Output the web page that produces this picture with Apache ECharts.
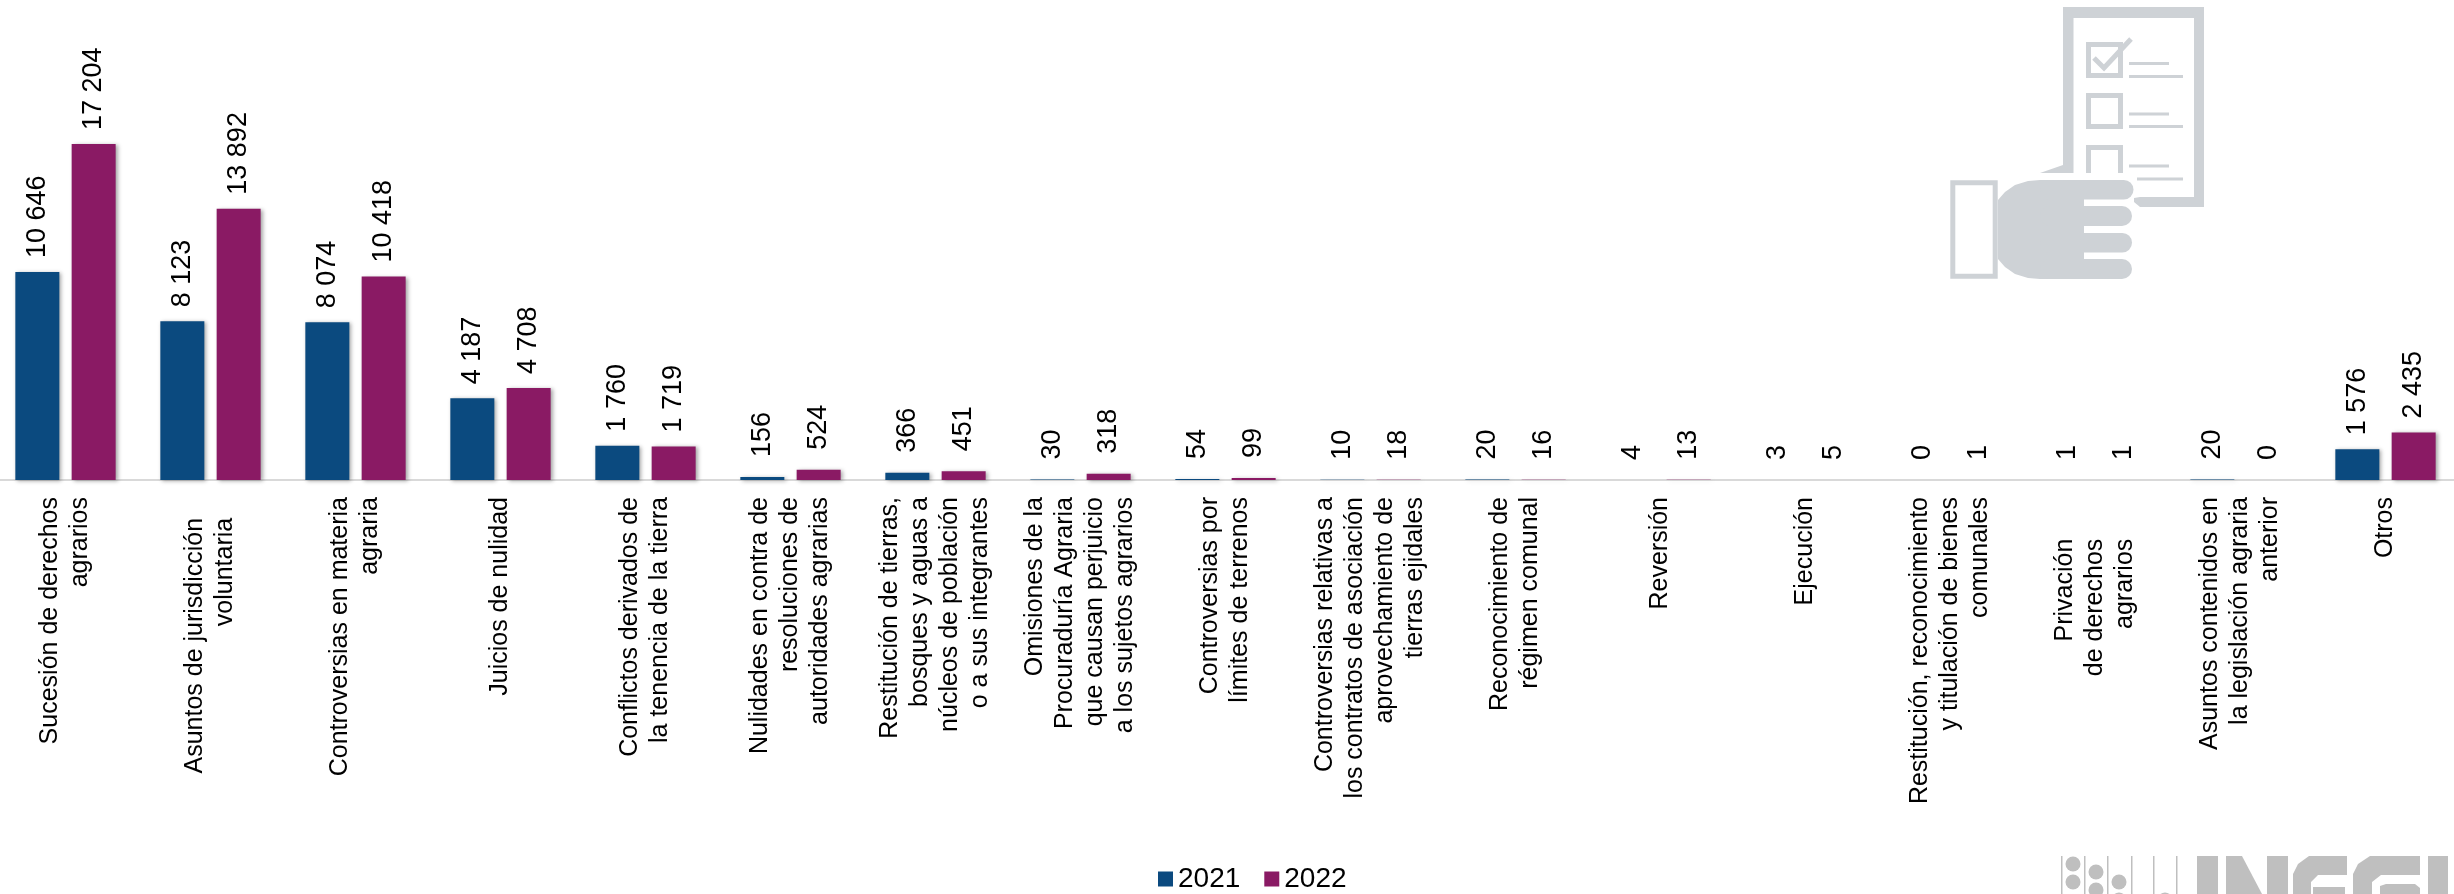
<!DOCTYPE html>
<html>
<head>
<meta charset="utf-8">
<style>html,body{margin:0;padding:0;background:#fff}#c{width:2454px;height:894px}</style>
<script src="https://cdn.jsdelivr.net/npm/echarts@6/dist/echarts.min.js"></script>
</head>
<body>
<div id="c"></div>
<script>
const categories = [
  "Sucesión de derechos\nagrarios",
  "Asuntos de jurisdicción\u00a0\u00a0\u00a0\nvoluntaria\u00a0\u00a0\u00a0",
  "Controversias en materia\nagraria",
  "Juicios de nulidad",
  "Conflictos derivados de\nla tenencia de la tierra",
  "Nulidades en contra de\nresoluciones de\nautoridades agrarias",
  "Restitución de tierras,\nbosques y aguas a\nnúcleos de población\no a sus integrantes",
  "Omisiones de la\nProcuraduría Agraria\nque causan perjuicio\na los sujetos agrarios",
  "Controversias por\nlímites de terrenos",
  "Controversias relativas a\nlos contratos de asociación\naprovechamiento de\ntierras ejidales",
  "Reconocimiento de\nrégimen comunal",
  "Reversión",
  "Ejecución",
  "Restitución, reconocimiento\ny titulación de bienes\ncomunales",
  "Privación\u00a0\u00a0\u00a0\u00a0\u00a0\u00a0\nde derechos\u00a0\u00a0\u00a0\u00a0\u00a0\u00a0\nagrarios\u00a0\u00a0\u00a0\u00a0\u00a0\u00a0",
  "Asuntos contenidos en\nla legislación agraria\nanterior",
  "Otros"
];
const values2021 = [10646, 8123, 8074, 4187, 1760, 156, 366, 30, 54, 10, 20, 4, 3, 0, 1, 20, 1576];
const values2022 = [17204, 13892, 10418, 4708, 1719, 524, 451, 318, 99, 18, 16, 13, 5, 1, 1, 0, 2435];
const seriesNames = ["2021", "2022"];
const colors = ["#0B4A7F", "#8A1A64"];
const ICON = "#CED2D6", LOGO = "#BFBFBF";

const fmt = v => String(v).replace(/\B(?=(\d{3})+$)/g, "\u00a0");
const toItems = arr => arr.map(v => ({ value: v, label: { distance: v < 1000 ? 17 : 11 } }));
const mkSeries = (i, arr) => ({
  name: seriesNames[i], type: "bar", barWidth: 44, barGap: "28%",
  data: toItems(arr), silent: true,
  itemStyle: { color: colors[i], shadowColor: "rgba(0,0,0,0.35)", shadowBlur: 4, shadowOffsetX: 2, shadowOffsetY: 1 },
  label: { show: true, position: "top", rotate: 90, align: "left", verticalAlign: "middle", offset: [3, 0],
           fontFamily: "Liberation Sans", fontSize: 27, color: "#000",
           formatter: p => fmt(p.value) }
});
const R = (x, y, w, h, r) => ({ type: "rect", silent: true, shape: { x, y, width: w, height: h, r: r || 0 }, style: { fill: ICON } });
const Box = (x, y, w, h) => ({ type: "rect", silent: true, shape: { x, y, width: w, height: h }, style: { fill: "none", stroke: ICON, lineWidth: 5 } });
const P = (pts, fill) => ({ type: "polygon", silent: true, shape: { points: pts }, style: { fill: fill || ICON } });
const L = (x, y, w) => ({ type: "rect", silent: true, shape: { x, y: y - 1.5, width: w, height: 3 }, style: { fill: ICON } });
const LR = (x, y, w, h) => ({ type: "rect", silent: true, shape: { x, y, width: w, height: h }, style: { fill: LOGO } });
const C = (cx, cy, r) => ({ type: "circle", silent: true, shape: { cx, cy, r }, style: { fill: LOGO } });

const graphics = [
  // clipboard icon
  R(2063, 7, 141, 11), R(2063, 7, 10.5, 166), R(2194, 7, 10, 200), R(2140, 197, 64, 10),
  P([[2040, 173], [2063, 165], [2073, 173]]),
  P([[2134, 198], [2140, 197], [2140, 207], [2134, 202]]),
  Box(2088.5, 44.5, 32, 31), Box(2088.5, 95.5, 32, 31),
  P([[2086, 173], [2086, 145], [2123, 145], [2123, 173], [2118, 173], [2118, 150], [2091, 150], [2091, 173]]),
  { type: "polyline", silent: true, shape: { points: [[2094, 58], [2104, 68], [2131, 39]] }, style: { fill: "none", stroke: ICON, lineWidth: 5 } },
  L(2129, 63.5, 40), L(2129, 76.5, 54), L(2129, 114, 40), L(2129, 126.5, 54), L(2129, 166, 40), L(2137, 179, 46),
  // hand
  Box(1952.8, 182.8, 42.4, 93.4),
  P([[1998, 200], [2005, 192], [2015, 185], [2028, 181], [2040, 180], [2084, 180], [2084, 279], [2040, 279], [2028, 278], [2015, 274], [2005, 267], [1998, 259]]),
  R(2040, 180, 93.5, 19.5, 9.7), R(2040, 206, 92, 20, 10), R(2040, 233, 92, 19.5, 9.7), R(2040, 259, 92, 20, 10),
  // logo
  LR(2061, 856, 1.5, 38), LR(2084, 856, 1.5, 38), LR(2107, 856, 1.5, 38), LR(2131, 856, 1.5, 38), LR(2153, 856, 1.5, 38), LR(2176, 856, 1.5, 38),
  C(2073, 864, 7.5), C(2073, 882, 7.5), C(2096, 872, 7.5), C(2096, 890, 7.5), C(2119, 882, 7.5), C(2119, 900, 7.5), C(2165, 900, 7.5),
  LR(2197, 856, 21, 38),
  P([[2226, 856], [2242, 856], [2262, 894], [2226, 894]], LOGO),
  LR(2267, 856, 21, 38),
  P([[2293, 894], [2293, 874], [2298, 864], [2309, 856], [2347, 856], [2347, 875], [2318, 875], [2311, 882], [2311, 894]], LOGO),
  LR(2313, 887, 32, 7),
  P([[2353, 894], [2353, 874], [2358, 864], [2370, 856], [2420, 856], [2420, 875], [2381, 875], [2372, 882], [2372, 894]], LOGO),
  P([[2380, 894], [2380, 886], [2386, 884], [2415, 884], [2420, 888], [2420, 894]], LOGO),
  LR(2428, 856, 20, 38)
];

const chart = echarts.init(document.getElementById("c"), null, { renderer: "canvas" });
chart.setOption({
  animation: false,
  backgroundColor: "#fff",
  graphic: graphics,
  legend: {
    show: true, left: 1158, top: 865, padding: 0, icon: "rect", itemWidth: 15, itemHeight: 15, itemGap: 24,
    textStyle: { fontFamily: "Liberation Sans", fontSize: 28, color: "#000", padding: [0, 0, 0, 0] },
    selectedMode: false, data: seriesNames
  },
  grid: { left: -7, top: 89.4, width: 2465, height: 390.6, containLabel: false, outerBoundsMode: "none" },
  xAxis: {
    type: "category", data: categories,
    axisLine: { show: true, lineStyle: { color: "#D9D9D9", width: 2 } },
    axisTick: { show: false },
    axisLabel: { interval: 0, rotate: 90, margin: 17, hideOverlap: false, fontFamily: "Liberation Sans", fontSize: 25, lineHeight: 30, color: "#000", padding: [12, 0, 0, 0] }
  },
  yAxis: { type: "value", min: 0, max: 20000, show: false, splitLine: { show: false } },
  series: [mkSeries(0, values2021), mkSeries(1, values2022)]
});
</script>
</body>
</html>
